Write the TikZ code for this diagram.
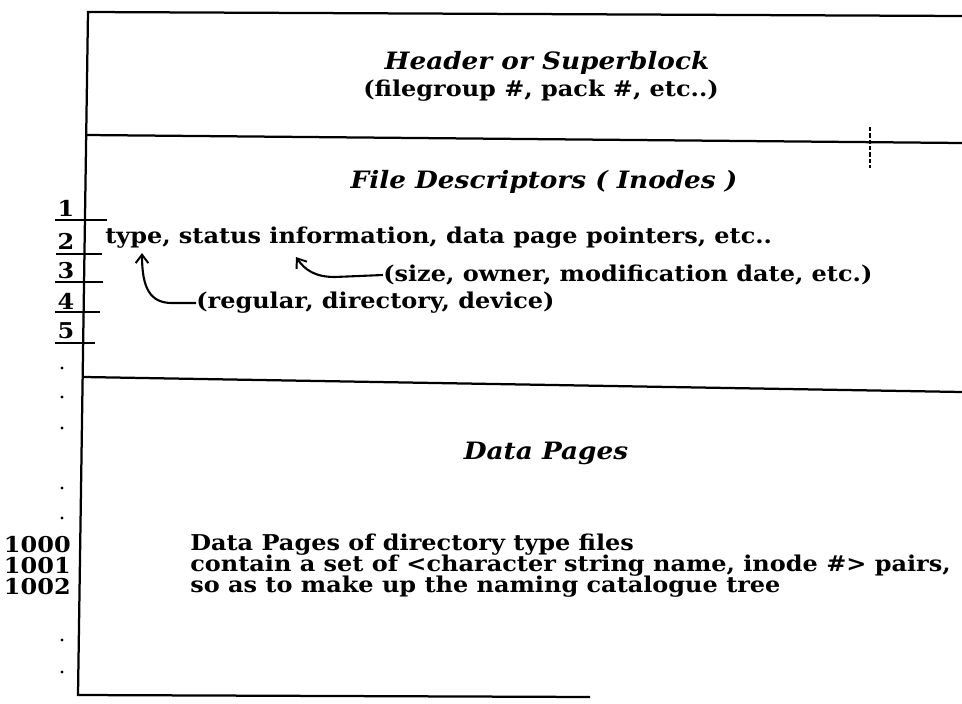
\documentclass[tikz,border=0pt]{standalone}
\usepackage{fontspec}
\setmainfont[FakeStretch=1.10]{DejaVu Serif}
\usetikzlibrary{calc,positioning,arrows.meta}

\tikzset{
	txt/.style={font=\fontsize{15.5}{18}\selectfont\bfseries, inner sep=0pt},
	ttl/.style={font=\fontsize{17}{20}\selectfont\bfseries\itshape, inner sep=0pt},
	rule/.style={line width=1.6pt},
	tick/.style={line width=1.2pt},
	ptr/.style={-{Straight Barb[length=6pt,width=9pt,line width=1.4pt]},line width=1.5pt}
}

\begin{document}
\begin{tikzpicture}[x=0.025cm,y=-0.025cm]
		\useasboundingbox (0,0) rectangle (962,704);
		% outline of the volume
		\draw[rule] (962,16) -- (88,12) -- (78,695) -- (590,697);
		\draw[rule] (87,135) -- (962,143);
		\draw[rule] (84,377) -- (962,392);
		\draw[line width=1.1pt,dash pattern=on 3pt off 1.5pt] (870,127) -- (870,168);
		\node[ttl] (hdr) at (547,63) {Header or Superblock};
		\node[txt] (hdrsub) at (541,91) {(filegroup \#, pack \#, etc..)};
		\node[ttl] (fd) at (544,182) {File Descriptors ( Inodes )};
		\node[txt,anchor=west] (info) at (105,238) {type, status information, data page pointers, etc..};
		\node[txt,anchor=west] (size) at (383,275) {(size, owner, modification date, etc.)};
		\node[txt,anchor=west] (reg) at (196,303) {(regular, directory, device)};
		\coordinate (typept) at (142,253);
		\coordinate (infopt) at (296,257);
		\draw[ptr] (size.west) -- (335,277) .. controls (315,277) and (305,270) .. (infopt);
		\draw[ptr] (reg.west) -- (172,303) .. controls (150,303) and (142,288) .. (typept);
		% inode numbers
		\draw[tick] (55,220) -- (107,220);
		\draw[tick] (56,254) -- (102,254);
		\draw[tick] (55,282) -- (103,282);
		\draw[tick] (55,312) -- (100,312);
		\draw[tick] (55,343) -- (95,343);
		\node[txt] (n1) at (66,208) {1};
		\node[txt] (n2) at (66,241) {2};
		\node[txt] (n3) at (66,271) {3};
		\node[txt] (n4) at (66,301) {4};
		\node[txt] (n5) at (66,331) {5};
		\fill (62,368) circle (1.6);
		\fill (62,397) circle (1.6);
		\fill (62,428) circle (1.6);
		\fill (62,488) circle (1.6);
		\fill (62,518) circle (1.6);
		\fill (62,640) circle (1.6);
		\fill (62,672) circle (1.6);
		% data pages
		\node[ttl] (dp) at (546,453) {Data Pages};
		\node[txt,anchor=east] (p1000) at (71,545) {1000};
		\node[txt,anchor=east] (p1001) at (71,566) {1001};
		\node[txt,anchor=east] (p1002) at (71,587) {1002};
		\node[txt,anchor=west] (d1) at (190,545) {Data Pages of directory type files};
		\node[txt,anchor=west] (d2) at (190,566) {contain a set of <character string name, inode \#> pairs,};
		\node[txt,anchor=west] (d3) at (190,587) {so as to make up the naming catalogue tree};
	\end{tikzpicture}
\end{document}
